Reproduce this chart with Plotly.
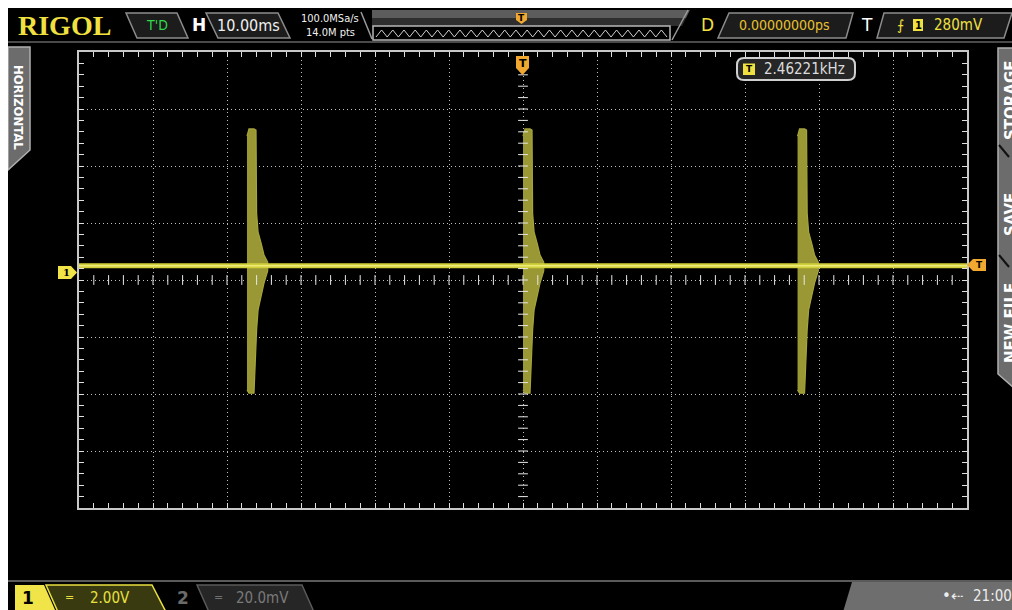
import plotly.graph_objects as go

time_range_ms = [-60, 60]          # 12 div x 10 ms
volt_range_v = [-8, 8]             # 8 div x 2 V
baseline_v = 0.5
burst_start_ms = [-37.3, 0.0, 37.1]
env_t_ms = [0.0, 0.27, 0.95, 1.22, 1.3, 1.5, 1.9, 2.3, 2.8]
env_top_v = [5.05, 5.30, 5.30, 5.26, 2.35, 1.68, 1.30, 0.88, 0.63]
env_bot_v = [-3.86, -3.97, -3.97, -2.21, -1.75, -1.05, -0.53, -0.11, 0.32]
freq_label = "2.46221kHz"
timebase_label = "10.00ms"
ch1_scale = "2.00V"
ch2_scale = "20.0mV"
trig_level = "280mV"
delay_label = "0.00000000ps"

# ---------------- geometry helpers (page pixels -> paper) ----------------
W, H = 1004, 602
L, T = 71, 44
PW, PH = 888, 456
R = W - L - PW
B = H - T - PH


def X(p):
    return (p - 8 - L) / PW


def Y(p):
    return 1 - (p - 8 - T) / PH


def poly(pts):
    return "M " + " L ".join(f"{X(a):.5f},{Y(b):.5f}" for a, b in pts) + " Z"


def rrect(x0, y0, x1, y1, r):
    s = f"M {X(x0 + r):.5f},{Y(y0):.5f} L {X(x1 - r):.5f},{Y(y0):.5f} "
    s += f"Q {X(x1):.5f},{Y(y0):.5f} {X(x1):.5f},{Y(y0 + r):.5f} "
    s += f"L {X(x1):.5f},{Y(y1 - r):.5f} Q {X(x1):.5f},{Y(y1):.5f} {X(x1 - r):.5f},{Y(y1):.5f} "
    s += f"L {X(x0 + r):.5f},{Y(y1):.5f} Q {X(x0):.5f},{Y(y1):.5f} {X(x0):.5f},{Y(y1 - r):.5f} "
    s += f"L {X(x0):.5f},{Y(y0 + r):.5f} Q {X(x0):.5f},{Y(y0):.5f} {X(x0 + r):.5f},{Y(y0):.5f} Z"
    return s


shapes = []
annos = []
NARROW = "Liberation Sans Narrow, DejaVu Sans Condensed, Arial Narrow, sans-serif"


def add_poly(pts, fill, line="rgba(0,0,0,0)", lw=0, layer="above"):
    shapes.append(dict(type="path", path=poly(pts), xref="paper", yref="paper",
                       fillcolor=fill, line=dict(color=line, width=lw), layer=layer))


def add_line(x0, y0, x1, y1, color, w=1):
    shapes.append(dict(type="line", xref="paper", yref="paper", x0=X(x0), y0=Y(y0),
                       x1=X(x1), y1=Y(y1), line=dict(color=color, width=w)))


def add_text(x, y, text, color, size, family=NARROW, angle=0, bold=False):
    if bold:
        text = f"<b>{text}</b>"
    annos.append(dict(x=X(x), y=Y(y), xref="paper", yref="paper", text=text, showarrow=False,
                      font=dict(color=color, size=size, family=family), textangle=angle,
                      xanchor="center", yanchor="middle"))


fig = go.Figure()

# ---------------- bursts ----------------
for t0 in burst_start_ms:
    xs = [t0 + t for t in env_t_ms] + [t0 + t for t in reversed(env_t_ms)]
    ys = env_top_v + list(reversed(env_bot_v))
    fig.add_trace(go.Scatter(x=xs, y=ys, fill="toself", fillcolor="#9a9834",
                             line=dict(color="#a6a43a", width=1.2), mode="lines",
                             hoverinfo="skip", showlegend=False))

# baseline trace
fig.add_trace(go.Scatter(x=time_range_ms, y=[baseline_v, baseline_v], mode="lines",
                         line=dict(color="#d2d03a", width=5), hoverinfo="skip", showlegend=False))
fig.add_trace(go.Scatter(x=time_range_ms, y=[baseline_v, baseline_v], mode="lines",
                         line=dict(color="#ecea78", width=1.5), hoverinfo="skip", showlegend=False))

# centre cross tick marks
xt = [time_range_ms[0] + 2 * i for i in range(1, int((time_range_ms[1] - time_range_ms[0]) / 2))]
fig.add_trace(go.Scatter(x=xt, y=[0] * len(xt), mode="markers",
                         marker=dict(symbol="line-ns", size=7, line=dict(color="#e8e8e8", width=1)),
                         hoverinfo="skip", showlegend=False))
yt = [volt_range_v[0] + 0.4 * i for i in range(1, int((volt_range_v[1] - volt_range_v[0]) / 0.4))]
fig.add_trace(go.Scatter(x=[0] * len(yt), y=yt, mode="markers",
                         marker=dict(symbol="line-ew", size=7, line=dict(color="#e8e8e8", width=1)),
                         hoverinfo="skip", showlegend=False))

# ---------------- top bar ----------------
add_line(8, 42, 1012, 42, "#4a4a4a", 2)
add_text(64, 25, "RIGOL", "#f0e040", 28, family="Liberation Serif, DejaVu Serif, serif", bold=True)
add_poly([(126, 13), (177, 13), (188, 38), (137, 38)], "#1c1c1c", "#8c8c8c", 1.5)
add_text(157, 25, "T'D", "#30d84c", 14)
add_text(199, 25, "H", "#ffffff", 17, family="DejaVu Sans, sans-serif", bold=True)
add_poly([(206, 13), (278, 13), (290, 38), (218, 38)], "#1c1c1c", "#8c8c8c", 1.5)
add_text(248, 25, timebase_label, "#f0f0f0", 16)
add_text(330, 18, "100.0MSa/s", "#f0f0f0", 11)
add_text(330, 33, "14.0M pts", "#f0f0f0", 11)
add_line(361, 12, 372, 39, "#9a9a9a", 1.5)
add_poly([(372, 10), (690, 10), (686, 18), (372, 18)], "#5c5c5c")
add_poly([(372, 18), (686, 18), (682, 26), (372, 26)], "#2e2e2e")
shapes.append(dict(type="rect", xref="paper", yref="paper", x0=X(373), y0=Y(26), x1=X(670), y1=Y(40),
                   line=dict(color="#b8b8b8", width=1.5), fillcolor="#000000"))
zz = []
n = 26
for i in range(2 * n + 1):
    zz.append((376 + i * (667 - 376) / (2 * n), 30 if i % 2 else 37))
shapes.append(dict(type="path", xref="paper", yref="paper",
                   path="M " + " L ".join(f"{X(a):.5f},{Y(b):.5f}" for a, b in zz),
                   line=dict(color="#d0d0d0", width=1)))
add_line(672, 40, 688, 10, "#9a9a9a", 1.5)
add_poly([(516, 13), (527, 13), (527, 20), (521.5, 24), (516, 20)], "#f0a830")
add_text(521.5, 17.5, "T", "#000000", 9, family="DejaVu Sans, sans-serif", bold=True)
add_text(707, 25, "D", "#f0e040", 17, family="DejaVu Sans, sans-serif")
add_poly([(729, 13), (853, 13), (846, 38), (718, 38)], "#1c1c1c", "#8c8c8c", 1.5)
add_text(784, 25, delay_label, "#e8c030", 14)
add_text(867, 25, "T", "#ffffff", 17, family="DejaVu Sans, sans-serif")
add_poly([(884, 13), (1012, 13), (1004, 38), (877, 38)], "#1c1c1c", "#8c8c8c", 1.5)
add_text(900, 25, "⨍", "#f0e040", 14, family="DejaVu Sans, sans-serif")
shapes.append(dict(type="rect", xref="paper", yref="paper", x0=X(913), y0=Y(19), x1=X(923), y1=Y(31),
                   line=dict(width=0), fillcolor="#f0e040"))
add_text(918, 25, "1", "#000000", 10, family="DejaVu Sans, sans-serif", bold=True)
add_text(958, 25, trig_level, "#f0e040", 15)

# ---------------- side tabs ----------------
add_poly([(8, 47), (30, 47), (30, 150), (8, 170)], "#6c6c6c", "#b0b0b0", 1.5)
add_text(19, 107, "HORIZONTAL", "#ffffff", 13, family="DejaVu Sans Condensed, DejaVu Sans, sans-serif", angle=90, bold=True)
add_poly([(998, 48), (1014, 48), (1014, 388), (998, 374)], "#6c6c6c", "#b0b0b0", 1.5)
add_line(999, 145, 1009, 157, "#111111", 2)
add_line(999, 255, 1009, 267, "#111111", 2)
add_text(1011, 100, "STORAGE", "#ffffff", 15, family="DejaVu Sans, sans-serif", angle=-90, bold=True)
add_text(1011, 215, "SAVE", "#ffffff", 15, family="DejaVu Sans, sans-serif", angle=-90, bold=True)
add_text(1011, 323, "NEW FILE", "#ffffff", 15, family="DejaVu Sans, sans-serif", angle=-90, bold=True)

# ---------------- in-graticule markers ----------------
add_poly([(516, 56), (529, 56), (529, 68), (522.5, 75), (516, 68)], "#f0a830")
add_text(522.5, 64, "T", "#000000", 11, family="DejaVu Sans, sans-serif", bold=True)
add_poly([(58, 266), (71, 266), (77, 272.5), (71, 279), (58, 279)], "#f0e448")
add_text(66, 272.5, "1", "#000000", 10, family="DejaVu Serif, serif", bold=True)
add_poly([(967, 265), (973, 259), (986, 259), (986, 271), (973, 271)], "#f0a830")
add_text(979, 265, "T", "#000000", 9, family="DejaVu Sans, sans-serif", bold=True)
shapes.append(dict(type="path", xref="paper", yref="paper", path=rrect(737, 58, 855, 80, 7),
                   line=dict(color="#d0d0d0", width=2), fillcolor="#262626"))
shapes.append(dict(type="rect", xref="paper", yref="paper", x0=X(743), y0=Y(63.5), x1=X(755), y1=Y(75),
                   line=dict(width=0), fillcolor="#f0e040"))
add_text(749, 69.3, "T", "#000000", 9, family="DejaVu Sans, sans-serif", bold=True)
add_text(804, 69, freq_label, "#dcdcdc", 15, family="DejaVu Sans Condensed, DejaVu Sans, sans-serif")

# ---------------- bottom bar ----------------
add_line(8, 581, 1012, 581, "#5a5a5a", 2)
add_poly([(15, 585), (44, 585), (56, 612), (15, 612)], "#f0e448")
add_text(28, 598, "1", "#000000", 17, family="DejaVu Sans, sans-serif", bold=True)
add_poly([(46, 585), (152, 585), (166, 612), (58, 612)], "#3a3a10", "#e8e040", 1.5)
add_text(69, 597, "=", "#e8e040", 11, family="DejaVu Sans, sans-serif")
add_text(110, 598, ch1_scale, "#e8e040", 15)
add_text(183, 598, "2", "#6a6a6a", 17, family="DejaVu Sans, sans-serif", bold=True)
add_poly([(197, 585), (302, 585), (314, 612), (209, 612)], "#262626", "#5a5a5a", 1.5)
add_text(218, 597, "=", "#707070", 11, family="DejaVu Sans, sans-serif")
add_text(262, 598, ch2_scale, "#7a7a7a", 15)
add_poly([(852, 582), (1014, 582), (1014, 612), (843, 612)], "#6e6e6e")
add_text(952, 596, "•⇠", "#ececec", 15, family="DejaVu Sans, sans-serif")
add_text(992, 596, "21:00", "#ececec", 15)

# ---------------- layout ----------------
axis_common = dict(showgrid=True, gridcolor="#c0c0c0", griddash="1px,3px", gridwidth=1, zeroline=False,
                   showline=True, linecolor="#c8c8c8", linewidth=2, mirror="ticks", ticks="inside",
                   ticklen=5, tickcolor="#e0e0e0", tickwidth=1, showticklabels=False, fixedrange=True)
fig.update_xaxes(range=time_range_ms, dtick=10, tick0=0,
                 minor=dict(dtick=2, tick0=0, ticks="inside", ticklen=5, tickcolor="#e0e0e0", showgrid=False),
                 **axis_common)
fig.update_yaxes(range=volt_range_v, dtick=2, tick0=0,
                 minor=dict(dtick=0.4, tick0=0, ticks="inside", ticklen=5, tickcolor="#e0e0e0", showgrid=False),
                 **axis_common)
fig.update_layout(width=W, height=H, margin=dict(l=L, r=R, t=T, b=B, pad=0),
                  paper_bgcolor="#000000", plot_bgcolor="#000000", showlegend=False,
                  shapes=shapes, annotations=annos)

fig.write_html("out.html", config={"displayModeBar": False},
               post_script="document.body.style.margin='8px 0 0 8px';document.body.style.overflow='hidden';document.documentElement.style.overflow='hidden';")
